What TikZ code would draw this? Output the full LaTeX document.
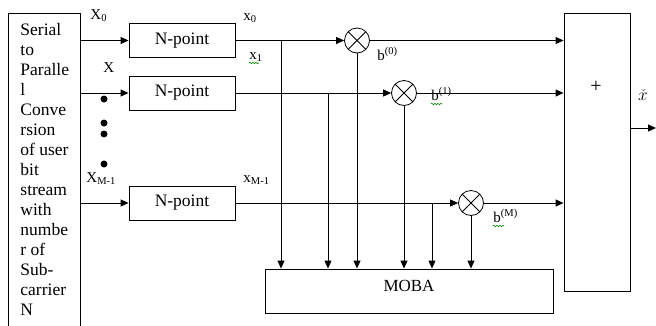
\documentclass[tikz,border=0pt]{standalone}
\usepackage{fontspec}
\setmainfont{Liberation Serif}
\usetikzlibrary{arrows.meta,decorations.pathmorphing}
\begin{document}
\begin{tikzpicture}[x=1pt,y=-1pt, line width=0.9pt,
  arr/.style={-{Triangle[length=8pt,width=7pt]}},
  fftbox/.style={draw, minimum width=106pt, minimum height=34pt, inner sep=0pt, font=\fontsize{17.5}{20}\selectfont},
  mult/.style={draw, circle, minimum size=25pt, inner sep=0pt, line width=0.8pt,
    path picture={\draw[line width=0.8pt] (path picture bounding box.north west) -- (path picture bounding box.south east) (path picture bounding box.north east) -- (path picture bounding box.south west);}},
  lbl/.style={anchor=base west, inner sep=0pt, font=\fontsize{15}{18}\selectfont},
  sptext/.style={anchor=base west, inner sep=0pt, font=\fontsize{17.5}{20}\selectfont},
  squig/.style={draw=green!55!black, line width=0.6pt, decorate, decoration={snake, amplitude=0.8pt, segment length=3pt}},
  dot/.style={circle, fill, inner sep=0pt, minimum size=7pt}]
\useasboundingbox (0,0) rectangle (656,325);
% serial-to-parallel block (runs off the bottom edge)
\node[draw, anchor=north west, minimum width=72pt, minimum height=330pt, inner sep=0pt] (sp) at (8,13) {};
\foreach \t [count=\i from 0] in {Serial,to,Paralle,l,Conve,rsion,of user,bit,stream,with,numbe,r of,Sub-,carrier,N}
  \node[sptext] (spl\i) at (20,35+20*\i) {\t};
% N-point blocks
\node[fftbox] (b1) at (182,40.5) {N-point};
\node[fftbox] (b2) at (182,93) {N-point};
\node[fftbox] (b3) at (182,203) {N-point};
% multipliers
\node[mult] (m1) at (357,40.5) {};
\node[mult] (m2) at (404,93) {};
\node[mult] (m3) at (471,203) {};
% summation block
\node[draw, minimum width=66pt, minimum height=278pt, inner sep=0pt] (sum) at (597,152) {};
\node[inner sep=0pt, font=\fontsize{20}{20}\selectfont] (plus) at (596,87) {+};
% MOBA block
\node[draw, minimum width=288pt, minimum height=44pt, inner xsep=0pt, inner ysep=0pt, text height=22pt, text depth=22pt, font=\fontsize{17}{20}\selectfont] (moba) at (409,291) {MOBA};
% inputs
\draw[arr] (sp.east |- b1.west) -- (b1.west);
\draw[arr] (sp.east |- b2.west) -- (b2.west);
\draw[arr] (sp.east |- b3.west) -- (b3.west);
% rows
\draw[arr] (b1.east) -- (m1.west);
\draw[arr] (m1.east) -- (m1.east -| sum.west);
\draw[arr] (b2.east) -- (m2.west);
\draw[arr] (m2.east) -- (m2.east -| sum.west);
\draw[arr] (b3.east) -- (m3.west);
\draw[arr] (m3.east) -- (m3.east -| sum.west);
% taps to MOBA
\coordinate (t1) at (281,0);
\coordinate (t2) at (328,0);
\coordinate (t3) at (432,0);
\draw[arr] (t1 |- b1.east) -- (t1 |- moba.north);
\draw[arr] (t2 |- b2.east) -- (t2 |- moba.north);
\draw[arr] (t3 |- b3.east) -- (t3 |- moba.north);
\draw[arr] (m1.south) -- (m1.south |- moba.north);
\draw[arr] (m2.south) -- (m2.south |- moba.north);
\draw[arr] (m3.south) -- (m3.south |- moba.north);
% output
\coordinate (out) at (656,128);
\draw[arr] (out -| sum.east) -- (out);
\node[inner sep=0pt, font=\fontsize{16}{16}\selectfont] (xc) at (643,95) {$\check{x}$};
% labels
\node[lbl] (lx0) at (90,19) {X\textsubscript{0}};
\node[lbl] (lx) at (103,72) {X};
\node[lbl] (lxm) at (86,182) {X\textsubscript{M-1}};
\node[lbl] (ly0) at (243,20) {x\textsubscript{0}};
\node[lbl] (ly1) at (249,59) {x\textsubscript{1}};
\node[lbl] (lym) at (243,182) {x\textsubscript{M-1}};
\node[lbl] (lb0) at (377,60) {b\textsuperscript{(0)}};
\node[lbl] (lb1) at (431,100) {b\textsuperscript{(1)}};
\node[lbl] (lbm) at (493,222) {b\textsuperscript{(M)}};
\draw[squig] ([yshift=-4pt]ly1.base west) -- ++(10,0);
\draw[squig] ([yshift=-4pt]lb1.base west) -- ++(11,0);
\draw[squig] ([yshift=-4pt]lbm.base west) -- ++(11,0);
% dots
\node[dot] (d1) at (104,99) {};
\node[dot] (d2) at (104,123) {};
\node[dot] (d3) at (104,134) {};
\node[dot] (d4) at (104,164) {};
\end{tikzpicture}
\end{document}
